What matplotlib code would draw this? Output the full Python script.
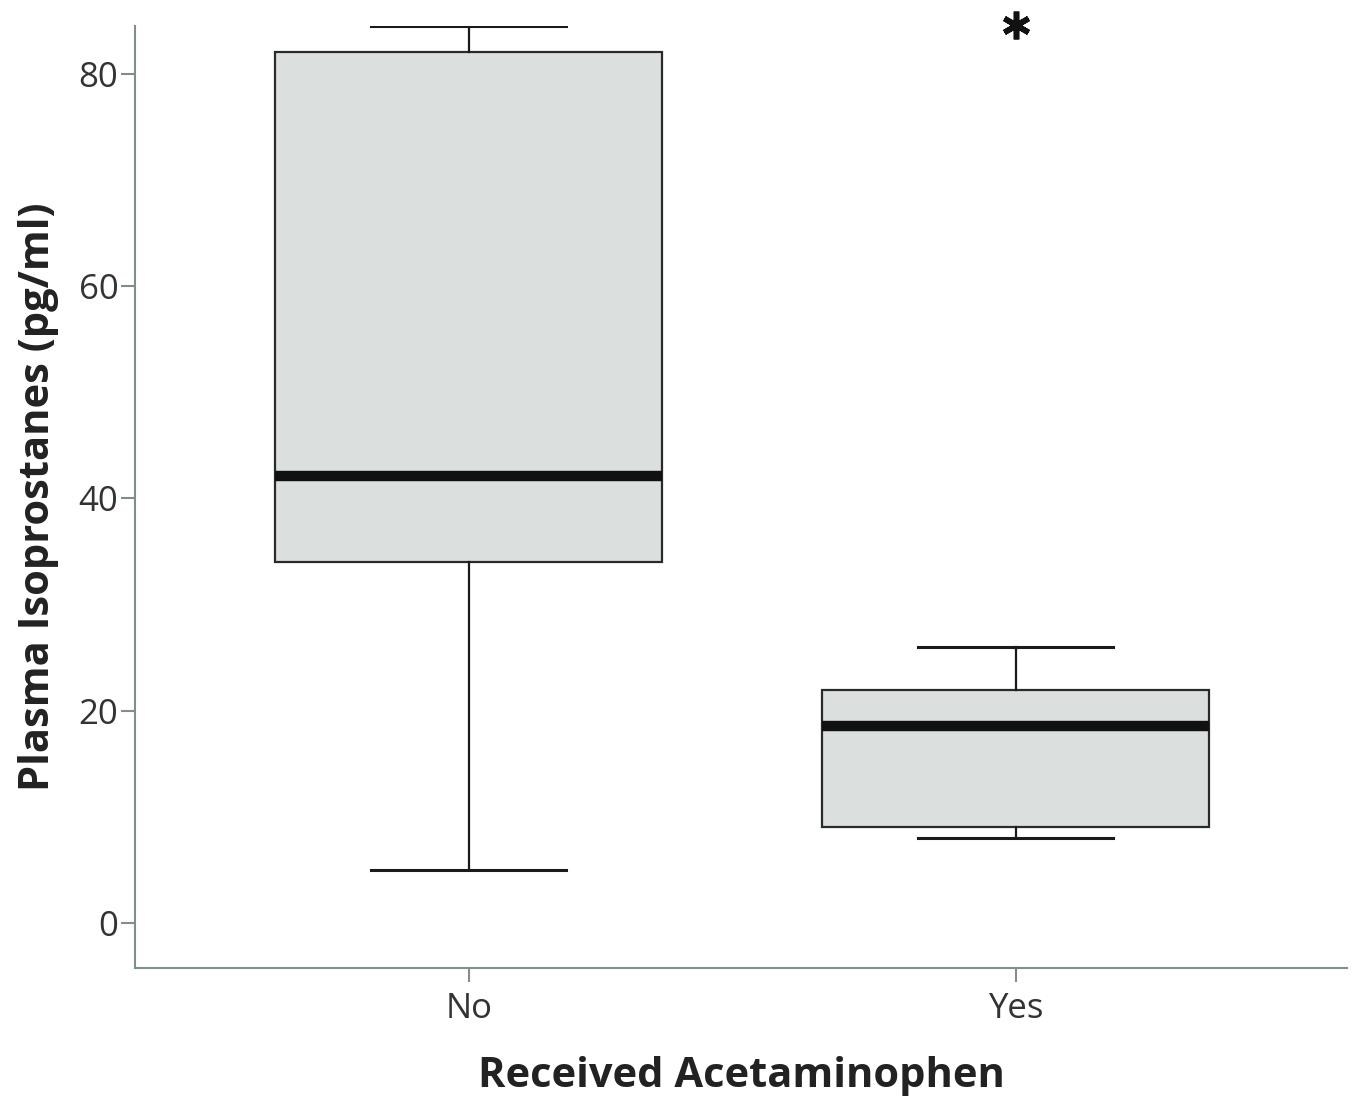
import matplotlib.pyplot as plt

# Box summary values (pg/ml)
groups = ['No', 'Yes']
q1 = [34.0, 9.0]
medians = [42.1, 18.6]
q3 = [82.1, 22.0]
whisker_low = [5.0, 8.0]
whisker_high = [84.5, 26.0]
outliers = [[], [84.6]]

spine_col = '#7f8e8e'
text_col = '#333333'

stats = []
for i, g in enumerate(groups):
    stats.append(dict(label=g, q1=q1[i], med=medians[i], q3=q3[i],
                      whislo=whisker_low[i], whishi=whisker_high[i],
                      fliers=outliers[i]))

fig = plt.figure(figsize=(13.52, 10.96), dpi=100)
ax = fig.add_axes([0.0999, 0.1168, 0.8964, 0.8595])

ax.bxp(stats, positions=[0, 1], widths=0.707, patch_artist=True,
       boxprops=dict(facecolor='#dbe0df', edgecolor='#2a2a2a', linewidth=1.6),
       medianprops=dict(color='#111111', linewidth=7.5, solid_capstyle='butt'),
       whiskerprops=dict(color='#1a1a1a', linewidth=1.6),
       capprops=dict(color='#1a1a1a', linewidth=2.2),
       capwidths=0.357,
       flierprops=dict(marker=(6, 2, 0), markersize=20, markeredgewidth=4,
                       markeredgecolor='#111111', clip_on=False))

ax.set_xlim(-0.61, 1.606)
ax.set_ylim(-4.24, 84.52)
ax.set_yticks([0, 20, 40, 60, 80])

for s in ['top', 'right']:
    ax.spines[s].set_visible(False)
for s in ['left', 'bottom']:
    ax.spines[s].set_color(spine_col)
    ax.spines[s].set_linewidth(1.5)

ax.tick_params(axis='both', colors=spine_col, length=10, width=1.5,
               labelsize=25, labelcolor=text_col)
ax.tick_params(axis='y', pad=2)
ax.tick_params(axis='x', pad=7)
for lab in ax.get_xticklabels() + ax.get_yticklabels():
    lab.set_family('Open Sans')

ax.set_xlabel('Received Acetaminophen', fontsize=30, fontweight='bold',
              family='Open Sans', color='#222222', labelpad=22)
ax.set_ylabel('Plasma Isoprostanes (pg/ml)', fontsize=30, fontweight='bold',
              family='Open Sans', color='#222222', labelpad=14)

fig.savefig('out.png', dpi=100)
